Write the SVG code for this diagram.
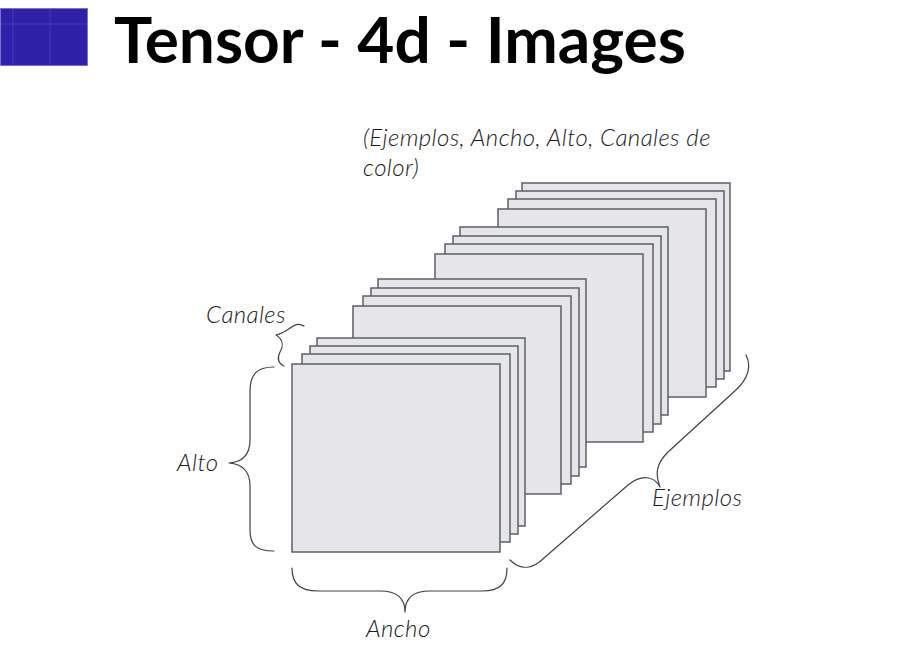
<svg xmlns="http://www.w3.org/2000/svg" width="919" height="652" viewBox="0 0 919 652">
<style>
.sheet{fill:#e6e5e8;stroke:#5b6068;stroke-width:1.5}
.brace{fill:none;stroke:#3c4048;stroke-width:1.2;stroke-linecap:round;stroke-linejoin:round}
.lbl{font-family:Lato,"Liberation Sans",sans-serif;font-style:italic;font-weight:300;font-size:24px;letter-spacing:0.4px;fill:#1a1a1a}
.title{font-family:Lato,"Liberation Sans",sans-serif;font-weight:700;font-size:64px;fill:#000}
</style>
<rect x="0" y="0" width="919" height="652" fill="#fff"/>
<g id="logo">
<rect x="0" y="8" width="88" height="58" fill="#2f20a8"/>
<path d="M13,8V66M50,8V66M0,24H88" stroke="#4a3cbc" stroke-width="1" fill="none"/>
<rect x="0.5" y="8.5" width="87" height="57" fill="none" stroke="#7a70d6" stroke-width="1"/>
</g>
<text class="title" x="114" y="63">Tensor - 4d - Images</text>
<g id="stack4">
<rect class="sheet" x="522" y="183" width="208" height="188"/>
<rect class="sheet" x="516" y="191" width="208" height="188"/>
<rect class="sheet" x="508" y="199" width="208" height="188"/>
<rect class="sheet" x="498" y="209" width="208" height="188"/>
</g>
<g id="stack3">
<rect class="sheet" x="460" y="227" width="208" height="188"/>
<rect class="sheet" x="453" y="236" width="208" height="188"/>
<rect class="sheet" x="445" y="244" width="208" height="188"/>
<rect class="sheet" x="435" y="254" width="208" height="188"/>
</g>
<g id="stack2">
<rect class="sheet" x="378" y="279" width="208" height="188"/>
<rect class="sheet" x="371" y="288" width="208" height="188"/>
<rect class="sheet" x="363" y="296" width="208" height="188"/>
<rect class="sheet" x="353" y="306" width="208" height="188"/>
</g>
<g id="stack1">
<rect class="sheet" x="317" y="338" width="208" height="188"/>
<rect class="sheet" x="310" y="346" width="208" height="188"/>
<rect class="sheet" x="302" y="354" width="208" height="188"/>
<rect class="sheet" x="292" y="364" width="208" height="188"/>
</g>
<g id="connectors">
<path class="brace" d="M304,326 C294,320 290,332 276,335 C284,340 283,347 280,352 C277,358 278,363 284,366"/>
<path class="brace" d="M274,367 C256,367 250,375 250,392 L250,440 C250,455 242,462 229,463 C242,464 250,471 250,486 L250,530 C250,545 256,551 274,551"/>
<path class="brace" d="M292,568 C292,584 300,591 318,591 L380,591 C396,591 405,598 405,612 C405,598 414,591 430,591 L482,591 C500,591 507,584 507,568"/>
<path class="brace" d="M510,560 C520,570 532,570 544,558 L628,485 C642,474 654,476 660,487 C654,472 658,462 668,452 L737,389 C750,376 751,365 746,355"/>
</g>
<g id="labels">
<text class="lbl" x="363" y="146">(Ejemplos, Ancho, Alto, Canales de</text>
<text class="lbl" x="363" y="176">color)</text>
<text class="lbl" x="206" y="323">Canales</text>
<text class="lbl" x="177" y="471">Alto</text>
<text class="lbl" x="366" y="637">Ancho</text>
<text class="lbl" x="652" y="506">Ejemplos</text>
</g>
</svg>
